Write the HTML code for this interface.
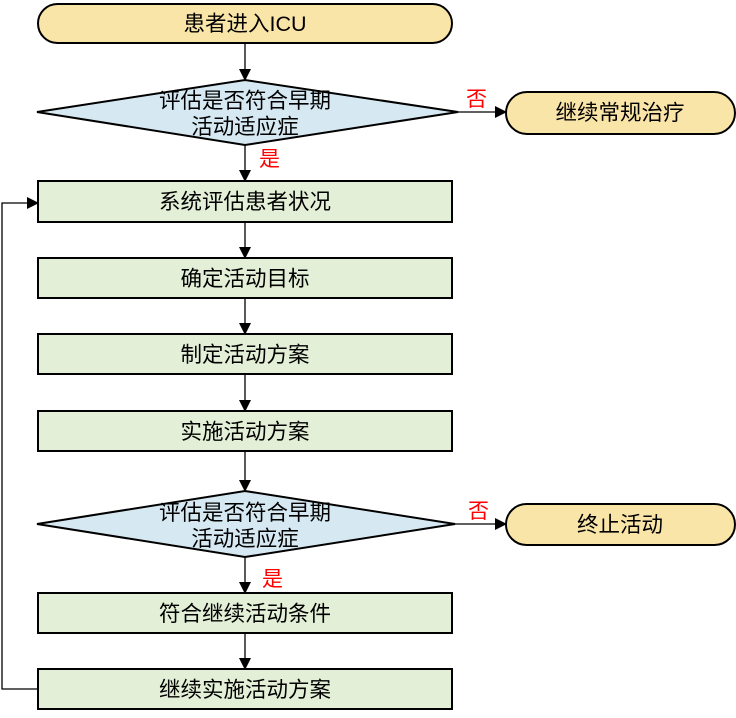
<!DOCTYPE html>
<html><head><meta charset="utf-8"><style>
body{margin:0;background:#fff}
text{font-family:"Liberation Sans","Noto Sans CJK SC",sans-serif;font-size:21.5px;fill:#000}
.r{fill:#f00;font-size:21px}
</style></head><body>
<svg width="736" height="713" xmlns="http://www.w3.org/2000/svg">
<defs><marker id="a" markerWidth="12" markerHeight="12" refX="11" refY="6" orient="auto" markerUnits="userSpaceOnUse"><path d="M0,0 L12,6 L0,12 z" fill="#000"/></marker></defs>
<g stroke="#000" stroke-width="2">
<rect x="38" y="4" width="414" height="39" rx="19.5" fill="#fae5a9"/>
<polygon points="37,112 245,80 458,112 245,145" fill="#d6e8f2"/>
<rect x="506" y="92" width="229" height="42" rx="21" fill="#fae5a9"/>
<rect x="38" y="181" width="414" height="41" fill="#e3efd6"/>
<rect x="38" y="258" width="414" height="40" fill="#e3efd6"/>
<rect x="38" y="334" width="414" height="40" fill="#e3efd6"/>
<rect x="38" y="411" width="414" height="40" fill="#e3efd6"/>
<polygon points="37,524 245,491 455,524 245,557" fill="#d6e8f2"/>
<rect x="506" y="504" width="229" height="41" rx="20.5" fill="#fae5a9"/>
<rect x="38" y="593" width="414" height="40" fill="#e3efd6"/>
<rect x="38" y="669" width="414" height="40" fill="#e3efd6"/>
</g>
<g stroke="#000" stroke-width="1.3" fill="none" marker-end="url(#a)">
<line x1="245" y1="43" x2="245" y2="80"/>
<line x1="245" y1="145" x2="245" y2="181"/>
<line x1="458" y1="112" x2="506" y2="112"/>
<line x1="245" y1="222" x2="245" y2="258"/>
<line x1="245" y1="298" x2="245" y2="334"/>
<line x1="245" y1="374" x2="245" y2="411"/>
<line x1="245" y1="451" x2="245" y2="491"/>
<line x1="455" y1="524" x2="506" y2="524"/>
<line x1="245" y1="557" x2="245" y2="593"/>
<line x1="245" y1="633" x2="245" y2="669"/>
<polyline points="38,689 2,689 2,203 38,203"/>
</g>
<g text-anchor="middle">
<text x="245" y="31">患者进入ICU</text>
<text x="245" y="108" font-size="20.5">评估是否符合早期</text>
<text x="245" y="134" font-size="20.5">活动适应症</text>
<text x="620" y="120">继续常规治疗</text>
<text x="245" y="209">系统评估患者状况</text>
<text x="245" y="286">确定活动目标</text>
<text x="245" y="362">制定活动方案</text>
<text x="245" y="439">实施活动方案</text>
<text x="245" y="520" font-size="20.5">评估是否符合早期</text>
<text x="245" y="546" font-size="20.5">活动适应症</text>
<text x="620" y="532">终止活动</text>
<text x="245" y="621">符合继续活动条件</text>
<text x="245" y="697">继续实施活动方案</text>
</g>
<text class="r" x="466" y="106">否</text>
<text class="r" x="259" y="166">是</text>
<text class="r" x="468" y="518">否</text>
<text class="r" x="262" y="586">是</text>
</svg>
</body></html>
